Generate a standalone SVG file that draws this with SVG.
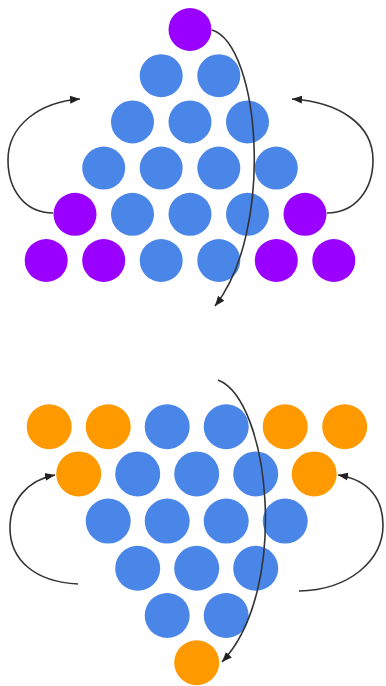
<svg xmlns="http://www.w3.org/2000/svg" width="386" height="686" viewBox="0 0 386 686">
<style>
.b{fill:#4a86e8}
.p{fill:#9900ff}
.o{fill:#ff9900}
.c{fill:none;stroke:#333;stroke-width:1.6}
</style>
<defs>
<marker id="ah" markerUnits="userSpaceOnUse" markerWidth="12" markerHeight="10" viewBox="0 0 12 10" refX="10" refY="5" orient="auto">
<path d="M0,1 L10,5 L0,9 z" fill="#222"/>
</marker>
</defs>
<rect width="386" height="686" fill="#fff"/>
<g id="top">
<g id="t0"><circle class="p" cx="190" cy="29.5" r="21.5"/></g>
<g id="t1"><circle class="b" cx="161.2" cy="75.7" r="21.5"/><circle class="b" cx="218.8" cy="75.7" r="21.5"/></g>
<g id="t2"><circle class="b" cx="132.5" cy="121.9" r="21.5"/><circle class="b" cx="190" cy="121.9" r="21.5"/><circle class="b" cx="247.5" cy="121.9" r="21.5"/></g>
<g id="t3"><circle class="b" cx="103.7" cy="168.1" r="21.5"/><circle class="b" cx="161.2" cy="168.1" r="21.5"/><circle class="b" cx="218.8" cy="168.1" r="21.5"/><circle class="b" cx="276.3" cy="168.1" r="21.5"/></g>
<g id="t4"><circle class="p" cx="75" cy="214.3" r="21.5"/><circle class="b" cx="132.5" cy="214.3" r="21.5"/><circle class="b" cx="190" cy="214.3" r="21.5"/><circle class="b" cx="247.5" cy="214.3" r="21.5"/><circle class="p" cx="305" cy="214.3" r="21.5"/></g>
<g id="t5"><circle class="p" cx="46.2" cy="260.5" r="21.5"/><circle class="p" cx="103.7" cy="260.5" r="21.5"/><circle class="b" cx="161.2" cy="260.5" r="21.5"/><circle class="b" cx="218.8" cy="260.5" r="21.5"/><circle class="p" cx="276.3" cy="260.5" r="21.5"/><circle class="p" cx="333.8" cy="260.5" r="21.5"/></g>
</g>
<g id="bottom">
<g id="b0"><circle class="o" cx="49.2" cy="426.7" r="22.5"/><circle class="o" cx="108.2" cy="426.7" r="22.5"/><circle class="b" cx="167.2" cy="426.7" r="22.5"/><circle class="b" cx="226.2" cy="426.7" r="22.5"/><circle class="o" cx="285.2" cy="426.7" r="22.5"/><circle class="o" cx="344.7" cy="426.7" r="22.5"/></g>
<g id="b1"><circle class="o" cx="78.7" cy="473.9" r="22.5"/><circle class="b" cx="137.7" cy="473.9" r="22.5"/><circle class="b" cx="196.7" cy="473.9" r="22.5"/><circle class="b" cx="255.7" cy="473.9" r="22.5"/><circle class="o" cx="314.2" cy="473.9" r="22.5"/></g>
<g id="b2"><circle class="b" cx="108.2" cy="521.1" r="22.5"/><circle class="b" cx="167.2" cy="521.1" r="22.5"/><circle class="b" cx="226.2" cy="521.1" r="22.5"/><circle class="b" cx="285.2" cy="521.1" r="22.5"/></g>
<g id="b3"><circle class="b" cx="137.7" cy="568.3" r="22.5"/><circle class="b" cx="196.7" cy="568.3" r="22.5"/><circle class="b" cx="255.7" cy="568.3" r="22.5"/></g>
<g id="b4"><circle class="b" cx="167.2" cy="615.5" r="22.5"/><circle class="b" cx="226.2" cy="615.5" r="22.5"/></g>
<g id="b5"><circle class="o" cx="196.7" cy="662.7" r="22.5"/></g>
</g>
<g id="connectors">
<path class="c" marker-end="url(#ah)" d="M212,30 C260,45 275,230 215,306"/>
<path class="c" marker-end="url(#ah)" d="M53,213 C25,213 8,190 8,160 C8,125 40,102 80,99"/>
<path class="c" marker-end="url(#ah)" d="M327,213 C355,213 373,190 373,160 C373,125 340,102 292,99"/>
<path class="c" marker-end="url(#ah)" d="M218,380 C270,400 290,590 222,662"/>
<path class="c" marker-end="url(#ah)" d="M78,584 C35,582 10,560 10,528 C10,500 28,480 55,475"/>
<path class="c" marker-end="url(#ah)" d="M299,591 C350,590 383,560 383,525 C383,500 370,480 338,475"/>
</g>
</svg>
